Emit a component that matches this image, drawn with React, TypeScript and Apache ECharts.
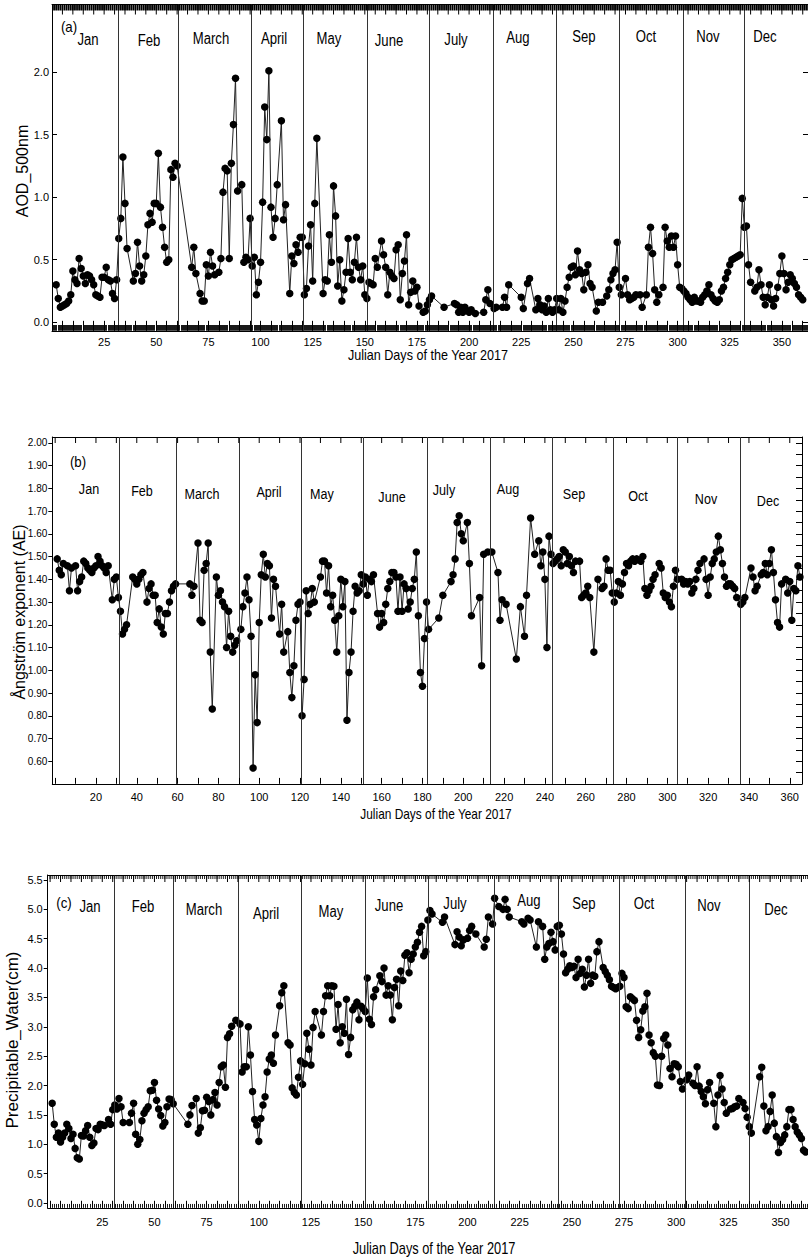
import React, { useEffect, useRef } from "react";
import * as echarts from "echarts";

const FONT = "'Liberation Sans', Arial, Helvetica, sans-serif";

const monthNames = ["Jan", "Feb", "March", "April", "May", "June", "July", "Aug", "Sep", "Oct", "Nov", "Dec"];

// month boundary days as drawn in each panel
const aodMonthLines = [32, 60.5, 95.4, 120.3, 151, 180.7, 211.4, 242, 271.8, 302.6, 331.8];
const aeMonthLines = [31.3, 59.2, 90.1, 120.5, 150.9, 182.3, 213.1, 243.5, 273.4, 304.8, 335.7];
const pwMonthLines = [30.8, 59, 90, 120.2, 151.2, 181.2, 212.7, 243.5, 272.7, 304.2, 334.9];

// tick labels
const aodTicks = [0, 0.5, 1, 1.5, 2];
const aeTicks = [0.6, 0.7, 0.8, 0.9, 1.0, 1.1, 1.2, 1.3, 1.4, 1.5, 1.6, 1.7, 1.8, 1.9, 2.0];
const pwTicks = [0, 0.5, 1, 1.5, 2, 2.5, 3, 3.5, 4, 4.5, 5, 5.5];
const dayLabels25 = [25, 50, 75, 100, 125, 150, 175, 200, 225, 250, 275, 300, 325, 350];
const dayLabels20 = [20, 40, 60, 80, 100, 120, 140, 160, 180, 200, 220, 240, 260, 280, 300, 320, 340, 360];

// (a) AOD 500 nm  [day, value]
const aodData = [
  [2, 0.30], [3, 0.19], [4, 0.12], [5, 0.13], [6, 0.14], [7, 0.15], [8, 0.17], [9, 0.22], [10, 0.41], [11, 0.34], [12, 0.31], [13, 0.51], [14, 0.43], [15, 0.37], [16, 0.31], [17, 0.38], [18, 0.37], [19, 0.34], [20, 0.30], [21, 0.22], [22, 0.21], [23, 0.20], [24, 0.36], [25, 0.36], [26, 0.44], [27, 0.34], [28, 0.33], [29, 0.23], [30, 0.19], [31, 0.34],
  [32, 0.67], [33, 0.83], [34, 1.32], [35, 0.95], [36, 0.59], [39, 0.33], [40, 0.39], [41, 0.64], [42, 0.45], [43, 0.33], [44, 0.38], [45, 0.53], [46, 0.78], [47, 0.87], [48, 0.80], [49, 0.95], [50, 0.95], [51, 1.35], [52, 0.92], [53, 0.76], [54, 0.60], [55, 0.48], [56, 0.50], [57, 1.22], [58, 1.16], [59, 1.27], [60, 1.25],
  [67, 0.44], [68, 0.60], [69, 0.39], [71, 0.23], [72, 0.17], [73, 0.17], [74, 0.46], [75, 0.37], [76, 0.56], [77, 0.45], [78, 0.38], [80, 0.40], [81, 0.51], [82, 1.04], [83, 1.23], [84, 1.21], [85, 0.51], [86, 1.27], [87, 1.58], [88, 1.95], [89, 1.05], [91, 1.10],
  [92, 0.48], [93, 0.52], [94, 0.50], [95, 0.83], [96, 0.45], [97, 0.52], [98, 0.22], [99, 0.32], [100, 0.48], [101, 0.96], [102, 1.72], [103, 1.46], [104, 2.01], [105, 0.92], [106, 0.68], [107, 0.83], [108, 1.10], [110, 1.61], [111, 0.82], [112, 0.94], [114, 0.23], [115, 0.53], [116, 0.47], [117, 0.62], [118, 0.56], [119, 0.68], [120, 0.68],
  [121, 0.22], [122, 0.27], [123, 0.61], [124, 0.78], [125, 0.33], [126, 0.95], [127, 1.47], [130, 0.23], [131, 0.34], [132, 0.33], [133, 0.70], [134, 0.48], [135, 1.09], [136, 0.85], [137, 0.29], [138, 0.50], [139, 0.17], [140, 0.26], [141, 0.40], [142, 0.67], [143, 0.40], [144, 0.34], [145, 0.48], [146, 0.68], [147, 0.44], [148, 0.34], [149, 0.45], [150, 0.22], [151, 0.19],
  [152, 0.32], [153, 0.31], [154, 0.30], [155, 0.51], [156, 0.44], [158, 0.65], [159, 0.54], [160, 0.44], [161, 0.22], [162, 0.40], [163, 0.37], [164, 0.35], [165, 0.58], [166, 0.62], [167, 0.18], [168, 0.39], [169, 0.49], [170, 0.70], [171, 0.14], [172, 0.24], [173, 0.33], [174, 0.25], [175, 0.28], [176, 0.13], [178, 0.08], [179, 0.09], [180, 0.14], [181, 0.18], [182, 0.21],
  [188, 0.12], [193, 0.15], [194, 0.14], [195, 0.08], [196, 0.12], [197, 0.08], [198, 0.12], [200, 0.08], [201, 0.10], [203, 0.07], [207, 0.08], [208, 0.18], [209, 0.26], [210, 0.15], [212, 0.11], [213, 0.12],
  [216, 0.12], [217, 0.20], [218, 0.12], [219, 0.30], [225, 0.20], [226, 0.11], [228, 0.31], [229, 0.35], [232, 0.10], [233, 0.19], [234, 0.14], [235, 0.10], [236, 0.13], [237, 0.08], [238, 0.19], [239, 0.10], [240, 0.08], [241, 0.10], [242, 0.19], [243, 0.10], [244, 0.19], [245, 0.08], [246, 0.17],
  [247, 0.28], [248, 0.36], [249, 0.44], [250, 0.45], [251, 0.38], [252, 0.57], [253, 0.42], [254, 0.39], [255, 0.26], [256, 0.40], [257, 0.46], [258, 0.31], [259, 0.28], [261, 0.09], [262, 0.16], [264, 0.16], [266, 0.21], [267, 0.26], [268, 0.34], [269, 0.39], [270, 0.42], [271, 0.64], [272, 0.28],
  [273, 0.22], [275, 0.35], [276, 0.22], [277, 0.18], [278, 0.19], [279, 0.20], [280, 0.22], [282, 0.22], [283, 0.12], [285, 0.22], [286, 0.60], [287, 0.76], [288, 0.55], [289, 0.26], [290, 0.16], [291, 0.22], [293, 0.28], [294, 0.76], [295, 0.65], [296, 0.60], [297, 0.69], [298, 0.60], [299, 0.69], [300, 0.46], [301, 0.28], [302, 0.27],
  [303, 0.25], [304, 0.23], [305, 0.20], [306, 0.18], [307, 0.16], [308, 0.20], [309, 0.17], [310, 0.17], [311, 0.16], [312, 0.20], [313, 0.22], [314, 0.25], [315, 0.30], [316, 0.22], [317, 0.19], [318, 0.17], [319, 0.16], [320, 0.18], [321, 0.25], [322, 0.28], [323, 0.35], [324, 0.40], [325, 0.46], [326, 0.50], [327, 0.51], [328, 0.52], [329, 0.53], [330, 0.54],
  [331, 0.99], [332, 0.76], [333, 0.77], [334, 0.46], [335, 0.32], [337, 0.25], [338, 0.28], [339, 0.42], [340, 0.30], [341, 0.20], [342, 0.14], [343, 0.20], [344, 0.30], [345, 0.18], [346, 0.13], [347, 0.19], [348, 0.28], [349, 0.39], [350, 0.53], [351, 0.39], [352, 0.26], [353, 0.32], [354, 0.38], [355, 0.35], [356, 0.31], [357, 0.28], [358, 0.22], [359, 0.20], [360, 0.18],
];

// (b) Angstrom exponent [day, value]
const aeData = [
  [1, 1.49], [2, 1.44], [3, 1.42], [4, 1.47], [6, 1.46], [7, 1.35], [8, 1.45], [10, 1.46], [11, 1.35], [12, 1.39], [13, 1.41], [14, 1.48], [15, 1.47], [16, 1.45], [17, 1.44], [18, 1.43], [19, 1.45], [20, 1.46], [21, 1.50], [22, 1.48], [23, 1.46], [24, 1.45], [25, 1.43], [26, 1.46], [28, 1.31], [29, 1.40], [30, 1.41], [31, 1.32], [32, 1.26],
  [33, 1.16], [34, 1.18], [35, 1.20], [38, 1.41], [39, 1.40], [40, 1.38], [41, 1.40], [42, 1.42], [43, 1.43], [45, 1.30], [46, 1.36], [47, 1.38], [48, 1.33], [49, 1.33], [50, 1.21], [51, 1.27], [52, 1.19], [53, 1.16], [54, 1.25], [55, 1.25], [56, 1.30], [57, 1.35], [58, 1.37], [59, 1.38],
  [66, 1.38], [67, 1.33], [68, 1.37], [70, 1.56], [71, 1.22], [72, 1.21], [73, 1.44], [74, 1.47], [75, 1.56], [76, 1.08], [77, 0.83], [79, 1.41], [80, 1.33], [81, 1.35], [82, 1.30], [83, 1.28], [84, 1.10], [85, 1.26], [86, 1.15], [87, 1.08], [88, 1.11], [89, 1.13],
  [91, 1.18], [92, 1.28], [93, 1.34], [94, 1.41], [95, 1.31], [96, 1.15], [97, 0.57], [98, 0.98], [99, 0.77], [100, 1.21], [101, 1.42], [102, 1.51], [103, 1.41], [104, 1.47], [105, 1.46], [106, 1.23], [107, 1.40], [108, 1.37], [110, 1.16], [111, 1.29], [112, 1.08], [114, 1.17], [115, 0.99], [116, 0.88], [117, 1.02], [118, 1.22], [119, 1.29], [120, 1.30],
  [121, 0.80], [122, 0.96], [123, 1.35], [124, 1.25], [125, 1.29], [126, 1.36], [127, 1.30], [130, 1.41], [131, 1.48], [132, 1.48], [133, 1.34], [134, 1.46], [135, 1.28], [136, 1.33], [137, 1.22], [138, 1.08], [139, 1.24], [140, 1.40], [141, 1.28], [142, 1.39], [143, 0.78], [144, 0.99], [145, 1.08], [146, 1.26], [147, 1.37], [148, 1.34], [149, 1.35], [150, 1.42], [151, 1.38],
  [152, 1.41], [153, 1.33], [154, 1.40], [155, 1.39], [156, 1.42], [158, 1.25], [159, 1.19], [160, 1.25], [161, 1.21], [162, 1.29], [163, 1.36], [164, 1.39], [165, 1.43], [166, 1.43], [167, 1.41], [168, 1.26], [169, 1.41], [170, 1.26], [171, 1.38], [172, 1.36], [173, 1.27], [174, 1.30], [175, 1.36], [176, 1.40], [177, 1.52], [178, 1.24], [179, 0.99], [180, 0.93], [181, 1.14], [182, 1.30], [183, 1.18],
  [188, 1.23], [190, 1.33], [194, 1.39], [195, 1.42], [196, 1.49], [197, 1.65], [198, 1.68], [199, 1.60], [200, 1.57], [202, 1.65], [203, 1.47], [204, 1.24], [208, 1.32], [209, 1.02], [210, 1.51], [212, 1.52],
  [214, 1.52], [217, 1.43], [218, 1.22], [219, 1.31], [221, 1.29], [226, 1.05], [228, 1.28], [230, 1.15], [231, 1.33], [233, 1.67], [235, 1.51], [237, 1.57], [238, 1.46], [239, 1.52], [240, 1.40], [241, 1.10], [242, 1.59],
  [243, 1.51], [244, 1.47], [245, 1.48], [246, 1.49], [247, 1.50], [248, 1.46], [249, 1.53], [250, 1.52], [251, 1.47], [252, 1.50], [253, 1.46], [254, 1.43], [255, 1.48], [257, 1.48], [258, 1.32], [259, 1.33], [260, 1.34], [261, 1.37], [262, 1.32], [264, 1.08], [266, 1.40], [268, 1.36], [269, 1.37], [270, 1.49], [271, 1.44], [272, 1.44],
  [273, 1.34], [274, 1.30], [275, 1.34], [276, 1.39], [277, 1.33], [278, 1.38], [279, 1.43], [280, 1.47], [281, 1.46], [282, 1.48], [283, 1.49], [284, 1.48], [285, 1.49], [287, 1.48], [288, 1.50], [289, 1.36], [290, 1.33], [291, 1.35], [292, 1.37], [293, 1.40], [294, 1.42], [296, 1.47], [297, 1.45], [298, 1.34], [299, 1.32], [300, 1.33], [301, 1.30], [302, 1.28], [303, 1.37], [304, 1.44],
  [305, 1.40], [307, 1.40], [308, 1.38], [309, 1.39], [310, 1.38], [311, 1.39], [312, 1.34], [313, 1.36], [314, 1.40], [315, 1.44], [316, 1.47], [318, 1.49], [319, 1.40], [320, 1.33], [321, 1.41], [322, 1.47], [323, 1.49], [324, 1.52], [325, 1.59], [326, 1.53], [327, 1.47], [328, 1.41], [329, 1.37], [330, 1.38], [331, 1.38], [332, 1.37], [333, 1.36], [334, 1.32], [336, 1.29],
  [337, 1.30], [338, 1.32], [341, 1.45], [342, 1.41], [343, 1.35], [344, 1.37], [346, 1.42], [347, 1.43], [348, 1.47], [349, 1.42], [350, 1.47], [351, 1.53], [352, 1.43], [353, 1.31], [354, 1.21], [355, 1.19], [356, 1.38], [358, 1.40], [359, 1.34], [360, 1.39], [361, 1.22], [362, 1.36], [363, 1.35], [364, 1.46], [365, 1.41],
];

// (c) Precipitable water (cm) [day, value]
const pwData = [
  [1, 1.70], [2, 1.34], [3, 1.12], [4, 1.19], [5, 1.04], [6, 1.12], [7, 1.19], [8, 1.34], [9, 1.27], [10, 1.10], [11, 1.17], [12, 0.93], [13, 0.77], [14, 0.75], [15, 1.15], [16, 1.14], [17, 1.23], [18, 1.32], [19, 1.12], [20, 0.98], [21, 1.02], [22, 1.27], [23, 1.25], [24, 1.34], [25, 1.33], [26, 1.32], [28, 1.42], [29, 1.34], [30, 1.59], [31, 1.67],
  [32, 1.60], [33, 1.78], [34, 1.64], [35, 1.37], [38, 1.37], [39, 1.53], [40, 1.70], [41, 1.17], [42, 1.00], [43, 1.08], [44, 1.40], [45, 1.53], [46, 1.59], [47, 1.64], [48, 1.91], [49, 1.92], [50, 2.05], [51, 1.75], [52, 1.60], [53, 1.49], [54, 1.31], [55, 1.37], [56, 1.64], [57, 1.77], [58, 1.76], [59, 1.69],
  [66, 1.34], [67, 1.50], [68, 1.66], [70, 1.78], [71, 1.19], [72, 1.28], [73, 1.57], [74, 1.58], [75, 1.80], [76, 1.73], [77, 1.50], [78, 1.76], [79, 1.88], [80, 1.67], [81, 2.05], [82, 2.32], [83, 2.35], [84, 1.97], [85, 2.82], [86, 2.88], [87, 3.01], [89, 3.11],
  [91, 3.05], [92, 2.23], [93, 2.32], [94, 2.32], [95, 3.00], [96, 2.52], [97, 1.90], [98, 1.42], [99, 1.33], [100, 1.05], [101, 1.44], [102, 1.67], [103, 1.81], [104, 2.23], [105, 2.45], [106, 2.52], [107, 2.38], [108, 2.86], [110, 3.36], [111, 3.58], [112, 3.70], [114, 2.73], [115, 2.69], [116, 1.96], [117, 1.88], [118, 1.84], [119, 2.14], [120, 2.42],
  [121, 2.02], [122, 2.37], [123, 2.89], [124, 2.62], [125, 2.35], [126, 2.99], [127, 3.26], [130, 2.86], [131, 3.26], [132, 3.53], [133, 3.70], [134, 3.53], [135, 3.70], [136, 3.69], [137, 2.96], [138, 3.38], [139, 2.73], [140, 3.00], [141, 2.89], [142, 3.47], [143, 2.53], [144, 2.82], [145, 3.29], [146, 3.35], [147, 3.42], [148, 3.12], [149, 3.35], [150, 3.31], [151, 3.26],
  [152, 3.83], [153, 3.13], [154, 3.04], [155, 3.51], [156, 3.63], [158, 3.87], [159, 3.77], [160, 4.00], [161, 3.54], [162, 3.70], [163, 3.54], [164, 3.12], [165, 3.67], [166, 3.81], [167, 3.36], [168, 3.95], [169, 3.79], [170, 4.22], [171, 4.26], [172, 3.92], [173, 4.15], [174, 4.24], [175, 4.36], [176, 4.44], [177, 4.61], [178, 4.71], [179, 4.21], [180, 4.28], [181, 4.82], [182, 4.98], [183, 4.92],
  [188, 4.78], [189, 4.87], [194, 4.40], [195, 4.62], [196, 4.53], [197, 4.38], [198, 4.48], [200, 4.51], [201, 4.64], [202, 4.71], [204, 4.58], [208, 4.36], [209, 4.49], [210, 4.87], [212, 4.75],
  [213, 5.19], [215, 5.05], [217, 5.00], [218, 5.17], [219, 5.00], [220, 4.87], [226, 4.79], [227, 4.75], [229, 4.85], [230, 4.82], [233, 4.36], [234, 4.79], [236, 4.71], [237, 4.15], [238, 4.36], [239, 4.42], [240, 4.61], [241, 4.45], [242, 4.31],
  [243, 4.71], [244, 4.73], [245, 4.58], [246, 4.24], [247, 3.92], [248, 3.98], [249, 4.04], [250, 4.01], [251, 4.03], [252, 3.84], [253, 4.15], [254, 3.91], [255, 3.98], [256, 3.68], [257, 3.88], [258, 4.15], [259, 3.74], [260, 3.88], [261, 3.86], [262, 4.28], [263, 4.45], [265, 4.01], [266, 3.94], [267, 3.88], [268, 3.80], [269, 3.69], [270, 3.67], [271, 3.65], [272, 3.67], [273, 3.69],
  [274, 3.91], [275, 3.84], [276, 3.34], [277, 3.31], [278, 3.51], [279, 3.48], [280, 3.45], [281, 3.11], [282, 2.82], [283, 2.95], [284, 3.27], [285, 3.34], [286, 3.57], [287, 2.86], [288, 2.73], [289, 2.56], [290, 2.50], [291, 2.01], [292, 2.00], [293, 2.50], [294, 2.80], [295, 2.86], [296, 2.69], [297, 2.29], [298, 2.15], [299, 2.37], [300, 2.36], [301, 2.32], [302, 2.07], [303, 1.94],
  [305, 2.10], [306, 2.18], [308, 2.04], [309, 2.00], [310, 2.32], [311, 1.99], [312, 1.90], [313, 1.81], [314, 1.69], [315, 1.93], [316, 2.05], [318, 1.70], [319, 1.30], [320, 1.84], [321, 2.17], [322, 1.94], [323, 1.71], [324, 1.53], [326, 1.60], [327, 1.61], [328, 1.64], [329, 1.65], [330, 1.78], [332, 1.71], [333, 1.61], [334, 1.46], [335, 1.30], [336, 1.19],
  [340, 2.15], [341, 2.31], [342, 1.65], [343, 1.23], [344, 1.30], [345, 1.56], [346, 1.84], [347, 1.36], [348, 1.13], [349, 0.86], [350, 1.03], [351, 1.08], [352, 1.16], [353, 1.30], [354, 1.59], [355, 1.59], [356, 1.42], [357, 1.30], [358, 1.21], [359, 1.16], [360, 1.10], [361, 0.90], [362, 0.87],
];

// annotation layout (pixel centres of the month names)
const aodLabelPos = [[88, 40], [149, 41], [211, 39], [274, 39], [329, 39], [389, 41], [456, 40], [518, 38], [584, 37], [646, 37], [708, 37], [765, 37]];
const aeLabelPos = [[89, 489], [142, 491], [202, 494], [269, 492], [322, 494], [392, 497], [444, 490], [508, 489], [574, 494], [638, 496], [706, 499], [768, 501]];
const pwLabelPos = [[90, 907], [143, 907], [204, 910], [266, 914], [331, 912], [389, 906], [455, 904], [529, 901], [584, 904], [644, 904], [709, 906], [776, 910]];

const AOD_MIN = -0.07, AOD_MAX = 2.54;
const AE_MIN = 0.5, AE_MAX = 2.026;
const PW_MIN = -0.085, PW_MAX = 5.585;

function seq(from: number, to: number, step: number) {
  const out: number[] = [];
  for (let v = from; v <= to + 1e-9; v += step) out.push(Math.round(v * 1000) / 1000);
  return out;
}

const aodDense = seq(1, 362, 1), aodMajor = seq(5, 360, 5);
const aeMajor = seq(0, 360, 10);
const pwDense = seq(0, 367, 1), pwMajor = seq(0, 365, 5);

function xAx(o: any) {
  return {
    type: "value",
    gridIndex: o.grid,
    position: o.pos,
    min: o.min,
    max: o.max,
    axisLine: { show: true, onZero: false, lineStyle: { color: "#000", width: 1 } },
    axisTick: { show: false },
    axisLabel: o.labels
      ? { show: true, customValues: o.labels, margin: o.margin ?? 6, fontSize: 11, color: "#000", fontFamily: FONT }
      : { show: false },
    splitLine: { show: false },
  };
}

function yAx(o: any) {
  return {
    type: "value",
    gridIndex: o.grid,
    position: o.pos,
    min: o.min,
    max: o.max,
    axisLine: { show: true, onZero: false, lineStyle: { color: "#000", width: 1 } },
    axisTick: { show: true, inside: o.inside, length: o.len, customValues: o.ticks, lineStyle: { color: "#000", width: 1 } },
    axisLabel: o.labels
      ? { show: true, customValues: o.labels, formatter: o.fmt, margin: o.margin ?? 4, fontSize: o.fs ?? 11, color: "#000", fontFamily: FONT }
      : { show: false },
    splitLine: { show: false },
  };
}

// short segments rising from the bottom frame (data units)
function bottomTicks(days: number[], yMin: number, yMax: number, dv: number, width: number) {
  const bot = yMin + (yMax - yMin) * 0.0005;
  return days.map((d) => [{ coord: [d, bot], lineStyle: { width, color: "#000", type: "solid" } }, { coord: [d, bot + dv] }]);
}

function txt(text: string, x: number, y: number, size: number, scaleX = 1, rotation = 0) {
  return {
    type: "text",
    x,
    y,
    rotation,
    scaleX,
    silent: true,
    z: 100,
    style: {
      text,
      fontSize: size,
      fontFamily: FONT,
      fill: "#000",
      align: "center",
      verticalAlign: "middle",
      textAlign: "center",
      textVerticalAlign: "middle",
    },
  };
}

function lineSeries(xi: number, yi: number, data: number[][], months: number[], ticks: any[]) {
  return {
    type: "line",
    xAxisIndex: xi,
    yAxisIndex: yi,
    data,
    symbol: "circle",
    symbolSize: 7.5,
    showAllSymbol: true,
    silent: true,
    itemStyle: { color: "#000" },
    lineStyle: { color: "#222", width: 1 },
    z: 3,
    markLine: {
      silent: true,
      symbol: ["none", "none"],
      label: { show: false },
      lineStyle: { color: "#333", width: 1, type: "solid" },
      emphasis: { disabled: true },
      data: [...months.map((d) => ({ xAxis: d })), ...ticks],
    },
  };
}

function textGraphics() {
  const graphics: any[] = [];
  monthNames.forEach((m, i) => {
    graphics.push(txt(m, aodLabelPos[i][0], aodLabelPos[i][1], 16, 0.82));
    graphics.push(txt(m, aeLabelPos[i][0], aeLabelPos[i][1], 15, 0.84));
    graphics.push(txt(m, pwLabelPos[i][0], pwLabelPos[i][1], 16, 0.82));
  });
  graphics.push(txt("(a)", 69, 27, 14, 0.95));
  graphics.push(txt("(b)", 78, 462, 14, 0.95));
  graphics.push(txt("(c)", 64, 903, 14, 0.95));
  graphics.push(txt("AOD_500nm", 22, 171, 16, 1, Math.PI / 2));
  graphics.push(txt("Ångström exponent (AE)", 19, 612, 16, 1, Math.PI / 2));
  graphics.push(txt("Precipitable_Water(cm)", 12, 1040, 17, 1, Math.PI / 2));
  graphics.push(txt("Julian Days of the Year 2017", 428, 355, 14, 0.9));
  graphics.push(txt("Julian Days of the Year 2017", 436, 814, 14, 0.85));
  graphics.push(txt("Julian Days of the Year 2017", 434, 1248, 16, 0.8));
  return graphics;
}

// top-frame tick marks, positioned through the chart's own axis scales
function topFrameGraphics(chart: any) {
  const out: any[] = [];
  const add = (xi: number, yi: number, yTop: number, days: number[], len: number, width: number) => {
    const y0 = chart.convertToPixel({ yAxisIndex: yi }, yTop);
    days.forEach((d) => {
      const x = chart.convertToPixel({ xAxisIndex: xi }, d);
      out.push({
        type: "line",
        silent: true,
        z: 50,
        shape: { x1: x, y1: y0, x2: x, y2: y0 + len },
        style: { stroke: "#000", lineWidth: width },
      });
    });
  };
  add(0, 0, AOD_MAX, aodDense, 6, 1.8);
  add(0, 0, AOD_MAX, aodMajor, 10, 1);
  add(2, 2, AE_MAX, aeMajor, 6, 1);
  add(4, 4, PW_MAX, pwDense, 4, 0.9);
  add(4, 4, PW_MAX, pwMajor, 7, 1);
  return out;
}

function buildOption() {
  const fmt1 = (v: number) => v.toFixed(1);
  const fmt2 = (v: number) => v.toFixed(2);
  const aeRight = seq(0.55, 2.0, 0.05);

  const aodBottom = [...bottomTicks(aodDense, AOD_MIN, AOD_MAX, 0.046, 1.8), ...bottomTicks(aodMajor, AOD_MIN, AOD_MAX, 0.08, 1)];
  const aeBottom = bottomTicks(aeMajor, AE_MIN, AE_MAX, 0.026, 1);
  const pwBottom = [...bottomTicks(pwDense, PW_MIN, PW_MAX, 0.066, 0.9), ...bottomTicks(pwMajor, PW_MIN, PW_MAX, 0.12, 1)];

  return {
    animation: false,
    backgroundColor: "#fff",
    textStyle: { fontFamily: FONT },
    grid: [
      { left: 52, top: 4.5, width: 757, height: 326.5, outerBoundsMode: "none", containLabel: false },
      { left: 52.3, top: 437, width: 749.7, height: 347, outerBoundsMode: "none", containLabel: false },
      { left: 47.7, top: 875, width: 770, height: 333, outerBoundsMode: "none", containLabel: false },
    ],
    xAxis: [
      xAx({ grid: 0, pos: "bottom", min: 0, max: 363, labels: dayLabels25, margin: 5 }),
      xAx({ grid: 0, pos: "top", min: 0, max: 363 }),
      xAx({ grid: 1, pos: "bottom", min: -1.4, max: 366, labels: dayLabels20, margin: 7 }),
      xAx({ grid: 1, pos: "top", min: -1.4, max: 366 }),
      xAx({ grid: 2, pos: "bottom", min: -1.15, max: 367.8, labels: dayLabels25, margin: 8 }),
      xAx({ grid: 2, pos: "top", min: -1.15, max: 367.8 }),
    ],
    yAxis: [
      yAx({ grid: 0, pos: "left", min: AOD_MIN, max: AOD_MAX, inside: true, len: 5, ticks: aodTicks, labels: aodTicks, fmt: fmt1, margin: 3 }),
      yAx({ grid: 0, pos: "right", min: AOD_MIN, max: AOD_MAX, inside: true, len: 6, ticks: aodTicks }),
      yAx({ grid: 1, pos: "left", min: AE_MIN, max: AE_MAX, inside: false, len: 4, ticks: aeTicks, labels: aeTicks, fmt: fmt2, margin: 5, fs: 10 }),
      yAx({ grid: 1, pos: "right", min: AE_MIN, max: AE_MAX, inside: true, len: 6, ticks: aeRight }),
      yAx({ grid: 2, pos: "left", min: PW_MIN, max: PW_MAX, inside: false, len: 4, ticks: pwTicks, labels: pwTicks, fmt: fmt1, margin: 5 }),
    ],
    series: [
      lineSeries(0, 0, aodData, aodMonthLines, aodBottom),
      lineSeries(2, 2, aeData, aeMonthLines, aeBottom),
      lineSeries(4, 4, pwData, pwMonthLines, pwBottom),
    ],
    graphic: { elements: textGraphics() },
  };
}

export default function App() {
  const ref = useRef<HTMLDivElement>(null);
  useEffect(() => {
    if (!ref.current) return;
    const chart = echarts.init(ref.current, undefined, { renderer: "svg" });
    chart.setOption(buildOption() as any);
    try {
      const extra = topFrameGraphics(chart);
      chart.setOption({ graphic: { elements: [...textGraphics(), ...extra] } } as any);
    } catch (e) {
      // keep the chart as drawn if the frame ticks cannot be placed
    }
    return () => chart.dispose();
  }, []);
  return <div ref={ref} style={{ position: "absolute", left: 0, top: 0, width: 808, height: 1260, background: "#fff" }} />;
}
